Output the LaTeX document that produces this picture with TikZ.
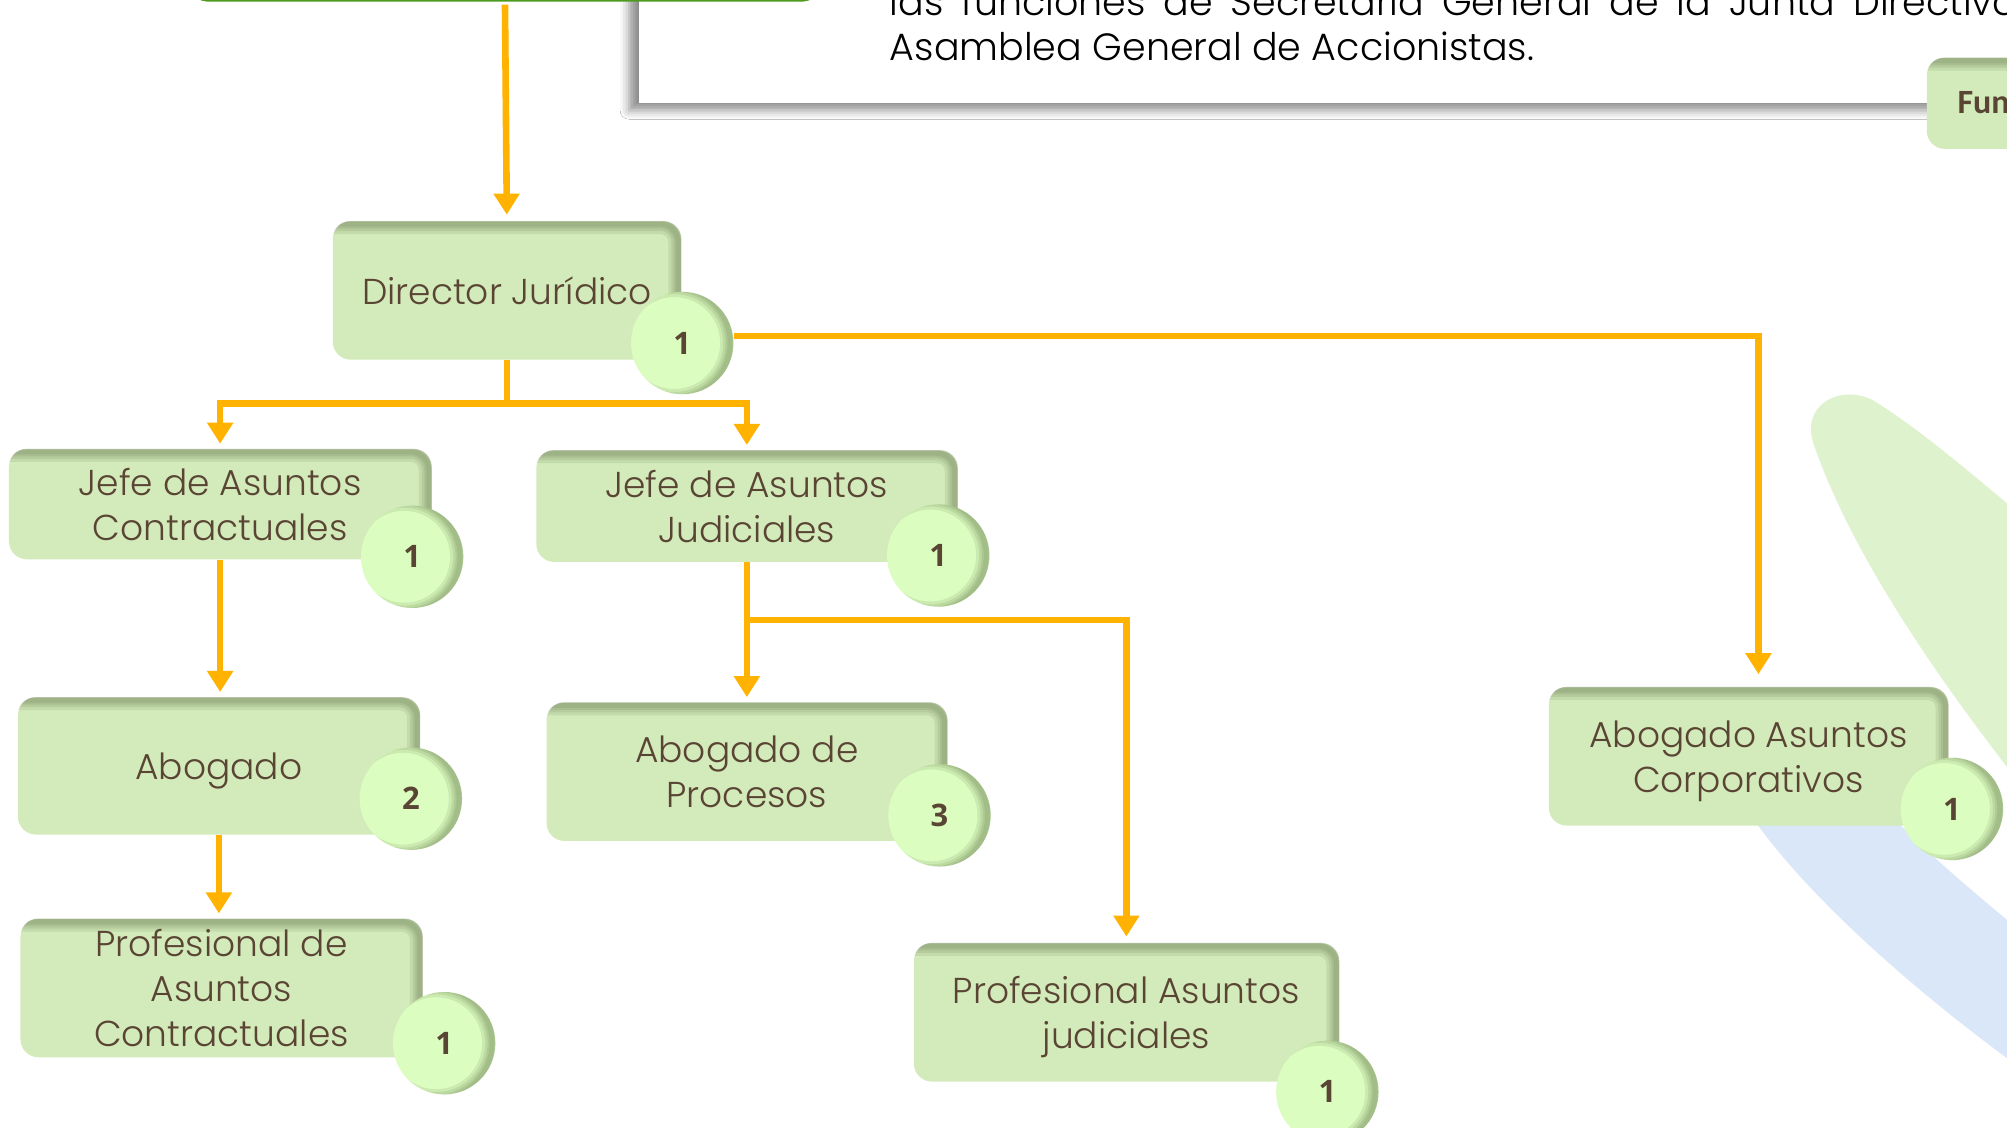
\documentclass[tikz,border=0pt]{standalone}
\usepackage{fontspec}
\setmainfont{Poppins}[UprightFont={* Light}]
\newfontfamily\numfont{Open Sans}
\newfontfamily\funfont{Carlito}
\usetikzlibrary{arrows.meta,shadows.blur,calc}
\definecolor{boxc}{HTML}{D3EBBA}
\definecolor{badgec}{HTML}{DBFDC0}
\definecolor{shadec}{HTML}{55653A}
\definecolor{txtc}{HTML}{5A4535}
\definecolor{arrc}{HTML}{FFB300}
\definecolor{swg}{HTML}{DFF2CE}
\definecolor{swb}{HTML}{DAE7F8}
\definecolor{topg}{HTML}{4E9A1C}
\newcommand\dpx{0.64pt}
\newcommand\shadebox[1]{%
  \begin{scope}
    \clip[rounded corners=9pt] (#1.south west) rectangle (#1.north east);
    \foreach \w in {10pt,7pt,4.5pt,2.5pt}{%
      \draw[shadec, line width=\w, draw opacity=0.12, rounded corners=9pt]
        ([shift={(-20pt,-20pt)}]#1.south west) rectangle ([shift={(-1.5pt,-1.5pt)}]#1.north east);}
  \end{scope}}
\newcommand\shadebadge[1]{%
  \begin{scope}
    \clip (#1.center) circle (25.6pt);
    \foreach \w in {10pt,7pt,4.5pt,2.5pt}{%
      \draw[shadec, line width=\w, draw opacity=0.12] ([xshift=-4pt]#1.center) circle (28pt);}
  \end{scope}}
\tikzset{
  orgbox/.style={rounded corners=9pt, fill=boxc, text=txtc, align=center, inner sep=0pt,
    text depth=0pt, font=\fontsize{18}{22.4}\selectfont},
  badge/.style={circle, fill=badgec, minimum size=51.2pt, inner sep=0pt, text=txtc,
    font=\numfont\bfseries\fontsize{15.5}{18}\selectfont},
  conn/.style={draw=arrc, line width=3.3pt},
  arrowend/.style={-{Triangle[width=12.5pt,length=10.5pt]}, shorten >=2.6pt},
  graytext/.style={anchor=base west, inner sep=0pt, text=black, font=\fontsize{19}{22}\selectfont}
}
\begin{document}
\begin{tikzpicture}[x=0.64pt, y=-0.64pt]
\useasboundingbox (0,0) rectangle (1568,880.5);
\fill[white] (0,0) rectangle (1568,880.5);
\clip (0,0) rectangle (1568,880.5);
% background swooshes
\fill[swg] (1600,640) .. controls (1520,540) and (1450,440) .. (1418,350)
  .. controls (1405,318) and (1435,300) .. (1462,312)
  .. controls (1500,335) and (1540,370) .. (1600,420) -- cycle;
\fill[swb] (1370,640) .. controls (1405,690) and (1480,765) .. (1600,850)
  -- (1600,745) .. controls (1560,712) and (1520,680) .. (1480,640) -- cycle;
% gray text box
\node[fill=white, inner sep=0pt, anchor=south west, minimum width=1046*\dpx, minimum height=200*\dpx,
  blur shadow={shadow xshift=-5pt, shadow yshift=-3.5pt, shadow blur radius=4.5pt, shadow opacity=45}]
  (gbox) at (499,81) {};
\node[graytext] (gline1) at (695,12) {{\spaceskip=9pt\relax las funciones de Secretaría General de la Junta Directiva}};
\node[graytext] (gline2) at (695,47) {Asamblea General de Accionistas.};
% top box (cut)
\node[draw=topg, line width=1.6pt, fill=boxc, rounded corners=6pt, minimum width=485*\dpx,
  minimum height=60*\dpx, anchor=south] (topbox) at (394.5,1.2) {};
% Fun box (cut)
\node[orgbox, anchor=north west, minimum width=120*\dpx, minimum height=71*\dpx] (funbox) at (1505,45) {};
\shadebox{funbox}
\node[anchor=west, inner sep=0pt, text=txtc, font=\funfont\bfseries\fontsize{17}{19}\selectfont] (funtxt) at (1529,80) {Fun};
% boxes
\node[orgbox, minimum width=272*\dpx, minimum height=108*\dpx] (dir) at (396,227) {Director Jurídico};
\shadebox{dir}
\node[badge] (dirb) at (533,268) {1};
\shadebadge{dirb}
\node[orgbox, minimum width=330*\dpx, minimum height=86*\dpx] (jc) at (172,394) {Jefe de Asuntos\\Contractuales};
\shadebox{jc}
\node[badge] (jcb) at (322,435) {1};
\shadebadge{jcb}
\node[orgbox, minimum width=329*\dpx, minimum height=87*\dpx] (jj) at (583.5,395.5) {Jefe de Asuntos\\Judiciales};
\shadebox{jj}
\node[badge] (jjb) at (733,434) {1};
\shadebadge{jjb}
\node[orgbox, minimum width=314*\dpx, minimum height=107*\dpx] (abo) at (171,598.5) {Abogado};
\shadebox{abo}
\node[badge] (abob) at (321,624) {2};
\shadebadge{abob}
\node[orgbox, minimum width=314*\dpx, minimum height=108*\dpx] (pac) at (173,772) {Profesional de\\Asuntos\\Contractuales};
\shadebox{pac}
\node[badge] (pacb) at (347,815) {1};
\shadebadge{pacb}
\node[orgbox, minimum width=313*\dpx, minimum height=108*\dpx] (apr) at (583.5,603) {Abogado de\\Procesos};
\shadebox{apr}
\node[badge] (aprb) at (734,637) {3};
\shadebadge{aprb}
\node[orgbox, minimum width=332*\dpx, minimum height=108*\dpx] (paj) at (880,791) {Profesional Asuntos\\judiciales};
\shadebox{paj}
\node[badge] (pajb) at (1037,853) {1};
\shadebadge{pajb}
\node[orgbox, minimum width=312*\dpx, minimum height=108*\dpx] (aac) at (1366,591) {Abogado Asuntos\\Corporativos};
\shadebox{aac}
\node[badge] (aacb) at (1525,632) {1};
\shadebadge{aacb}
% connectors
\draw[conn, arrowend, shorten <=1.5pt, shorten >=3.2pt] (topbox.south) -- (dir.north);
\draw[conn, arrowend] (dir.south) -- ++(0,34) -| (jc.north);
\draw[conn, arrowend] (dir.south) -- ++(0,34) -| (jj.north);
\draw[conn, arrowend, shorten >=6.4pt] ([yshift=3.5pt]dirb.east) -| ([xshift=5pt]aac.north);
\draw[conn, arrowend] (jc.south) -- (jc.south |- abo.north);
\draw[conn, arrowend] (abo.south) -- (abo.south |- pac.north);
\draw[conn, arrowend] (jj.south) -- (jj.south |- apr.north);
\draw[conn, arrowend, shorten >=3.2pt] (jj.south) -- ++(0,45) -| (paj.north);
\end{tikzpicture}
\end{document}
